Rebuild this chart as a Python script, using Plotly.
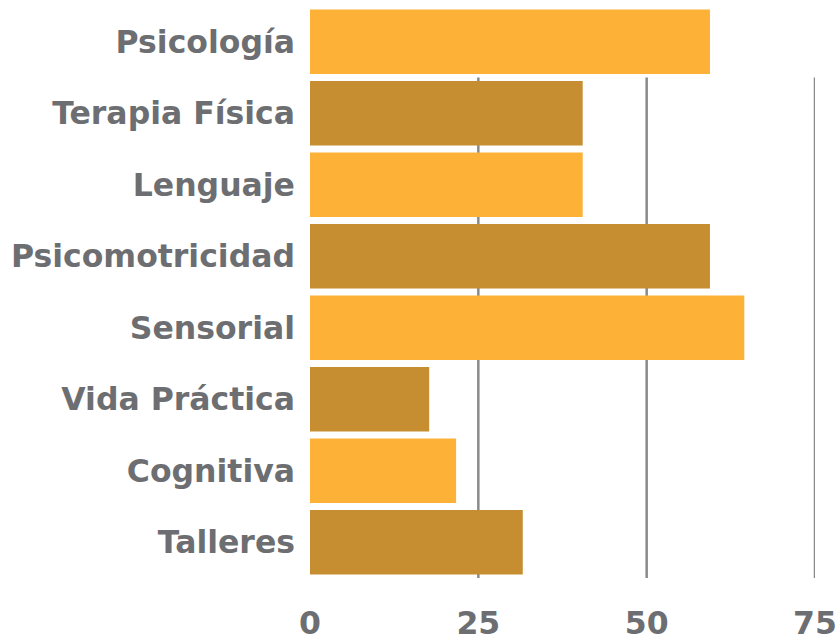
import plotly.graph_objects as go

categories = ["Psicología", "Terapia Física", "Lenguaje", "Psicomotricidad",
              "Sensorial", "Vida Práctica", "Cognitiva", "Talleres"]
values = [59.4, 40.5, 40.5, 59.4, 64.5, 17.7, 21.7, 31.6]
colors = ["#FDB237", "#C68E31", "#FDB237", "#C68E31",
          "#FDB237", "#C68E31", "#FDB237", "#C68E31"]
x_ticks = [0, 25, 50, 75]
x_tick_labels = ["0", "25", "50", "75"]

fig = go.Figure(go.Bar(
    x=values, y=categories, orientation="h",
    marker=dict(color=colors, line=dict(width=0)),
    hoverinfo="x+y",
))

grid_start = 1 - 1 / len(categories)
shapes = [dict(type="line", xref="x", yref="paper", x0=t, x1=t, y0=0, y1=grid_start,
               line=dict(color="#8A8A8C", width=2.5), layer="below")
          for t in x_ticks[1:]]

font = dict(family="DejaVu Sans", size=31.5, color="#6D6E71", weight="bold")

fig.update_layout(
    width=840, height=642,
    margin=dict(l=310, r=25, t=6, b=64),
    paper_bgcolor="white", plot_bgcolor="white",
    bargap=0.095,
    showlegend=False,
    shapes=shapes,
    xaxis=dict(range=[0, 75], tickvals=x_ticks, ticktext=x_tick_labels,
               showgrid=False, zeroline=False, showline=False, ticks="",
               tickfont=font, ticklabelstandoff=23, automargin=False,
               fixedrange=True),
    yaxis=dict(categoryorder="array", categoryarray=categories, autorange="reversed",
               showgrid=False, zeroline=False, showline=False, ticks="",
               tickfont=font, ticklabelstandoff=14, automargin=False,
               fixedrange=True),
)

fig.write_html("out.html", config={"displayModeBar": False},
               post_script="document.body.style.margin='0';document.body.style.overflow='hidden';")
